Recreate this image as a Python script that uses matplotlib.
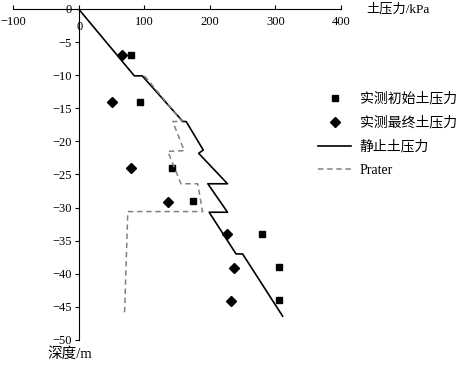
import matplotlib
matplotlib.use('Agg')
import matplotlib.pyplot as plt
import matplotlib.transforms as mtransforms

plt.rcParams['font.family'] = ['Liberation Serif', 'Noto Sans CJK SC', 'DejaVu Sans']
plt.rcParams['axes.unicode_minus'] = True

# measured initial earth pressure (kPa, depth m)
init_p = [80, 93, 143, 175, 279, 305, 305]
init_z = [-7, -14, -24, -29, -34, -39, -44]
# measured final earth pressure
final_p = [66, 51, 80, 137, 226, 237, 232]
final_z = [-7, -14, -24, -29.2, -34, -39.1, -44.1]
# at-rest earth pressure
rest_p = [0, 85, 97, 159, 164, 190, 183, 227, 197, 227, 199, 240, 250, 311]
rest_z = [0, -10.1, -10.1, -17.0, -17.0, -21.3, -21.8, -26.4, -26.4, -30.7, -30.7, -37.0, -37.0, -46.4]
# Prater
prater_p = [100.5, 158, 143.5, 161, 136, 156, 181.6, 189, 75, 70]
prater_z = [-10.1, -17.0, -17.0, -21.4, -21.5, -26.4, -26.4, -30.6, -30.6, -46.1]

labels = ['实测初始土压力', '实测最终土压力', '静止土压力', 'Prater']

fig = plt.figure(figsize=(4.57, 3.65), dpi=100)
ax = fig.add_axes([13/457, 1-340/365, (341-13)/457, (340-9)/365])

ax.plot(init_p, init_z, 's', color='black', markersize=5, label=labels[0])
ax.plot(final_p, final_z, 'D', color='black', markersize=5.5, label=labels[1])
ax.plot(rest_p, rest_z, '-', color='black', lw=1.2, label=labels[2])
ax.plot(prater_p, prater_z, '--', color='#808080', lw=1.1, dashes=(3.5, 2.5), label=labels[3])

ax.set_xlim(-100, 400)
ax.set_ylim(-50, 0)
ax.spines['top'].set_visible(False)
ax.spines['right'].set_visible(False)
ax.spines['bottom'].set_position(('data', 0))
ax.spines['left'].set_position(('data', 0))
ax.set_xticks([-100, 0, 100, 200, 300, 400])
ax.set_yticks(range(-50, 1, 5))
ax.tick_params(axis='x', direction='in', length=3, labelsize=9, pad=5)
ax.tick_params(axis='y', direction='out', length=3, labelsize=9, pad=2)

# nudge the x "0" label off the y spine
fig.canvas.draw()
zero_lab = ax.get_xticklabels()[1]
zero_lab.set_transform(zero_lab.get_transform() +
                       mtransforms.ScaledTranslation(1/100, -5/100, fig.dpi_scale_trans))

fig.text(366/457, 1-9/365, '土压力/kPa', fontsize=9.5, va='center', ha='left')
fig.text(47/457, 1-354/365, '深度/m', fontsize=10.5, va='center', ha='left')

ax.legend(loc='upper left', bbox_to_anchor=(318/457, 1-92/365),
          bbox_transform=fig.transFigure, frameon=False, fontsize=10,
          borderpad=0, borderaxespad=0, handlelength=2.4, handletextpad=0.6,
          labelspacing=0.75)

fig.savefig('out.png', dpi=100)
